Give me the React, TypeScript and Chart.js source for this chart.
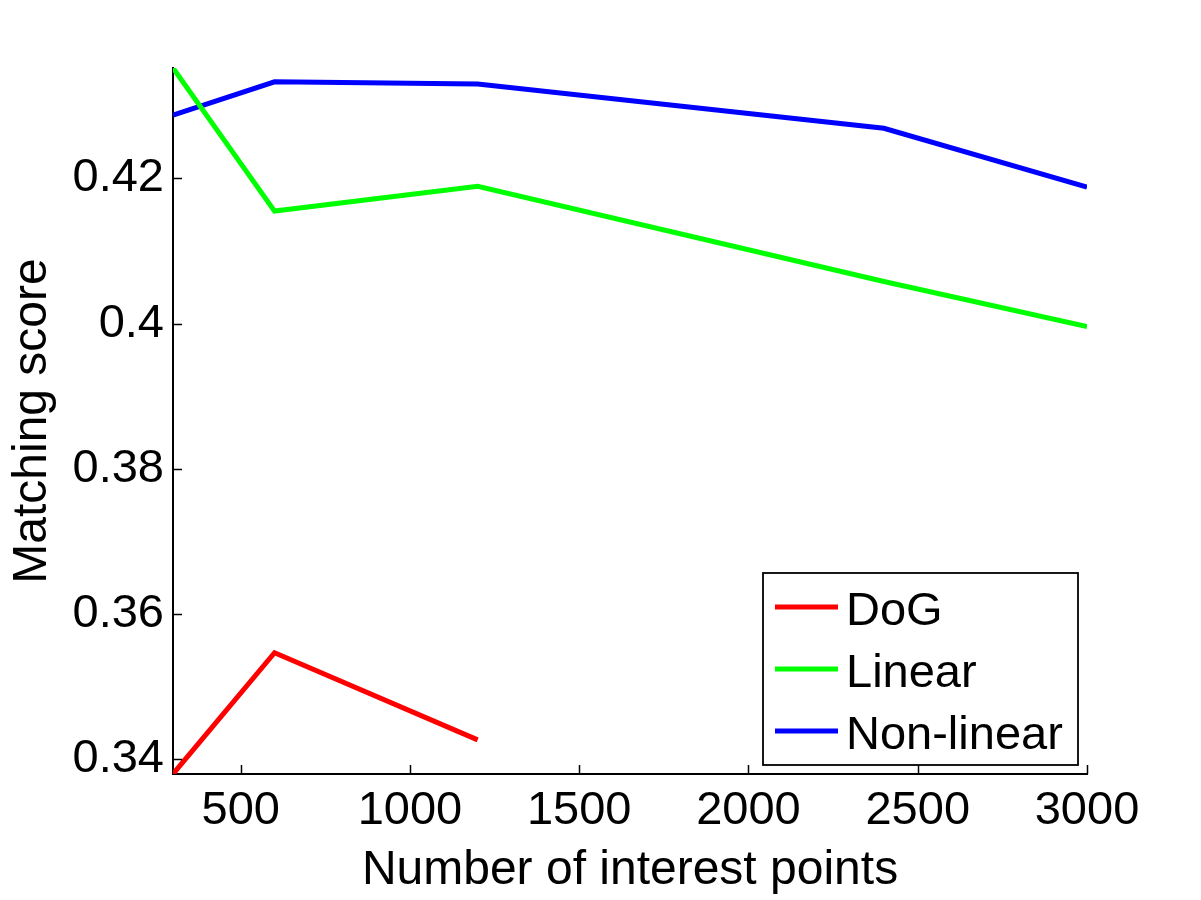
import React, { useEffect, useRef } from "react";
import { Chart, registerables } from "chart.js";

Chart.register(...registerables);

const xValues = [300, 600, 1200, 2400, 3000];
const dogValues = [0.338, 0.3547, 0.3427];
const linearValues = [0.4352, 0.4155, 0.4189, 0.4058, 0.3996];
const nonLinearValues = [0.4287, 0.4333, 0.433, 0.4269, 0.4188];
const seriesLabels = ["DoG", "Linear", "Non-linear"];
const seriesColors = ["#ff0000", "#00ff00", "#0000ff"];
const xTicks = [500, 1000, 1500, 2000, 2500, 3000];
const yTicks = [0.34, 0.36, 0.38, 0.4, 0.42];
const yTickLabels = ["0.34", "0.36", "0.38", "0.4", "0.42"];
const xTitle = "Number of interest points";
const yTitle = "Matching score";

const FONT = '"Liberation Sans", Arial, Helvetica, sans-serif';
const FS = 47;
const TFS = 48;

const innerTicksPlugin = {
  id: "innerTicks",
  afterDatasetsDraw(chart: any) {
    const { ctx, chartArea, scales } = chart;
    const len = 9;
    ctx.save();
    ctx.strokeStyle = "#000";
    ctx.lineWidth = 1.5;
    ctx.beginPath();
    scales.x.ticks.forEach((t: any) => {
      const px = Math.round(scales.x.getPixelForValue(t.value)) + 0.5;
      ctx.moveTo(px, chartArea.bottom);
      ctx.lineTo(px, chartArea.bottom - len);
    });
    scales.y.ticks.forEach((t: any) => {
      const py = Math.round(scales.y.getPixelForValue(t.value)) + 0.5;
      ctx.moveTo(chartArea.left, py);
      ctx.lineTo(chartArea.left + len, py);
    });
    ctx.stroke();
    ctx.restore();
  },
};

const boxLegendPlugin = {
  id: "boxLegend",
  afterDraw(chart: any) {
    const { ctx } = chart;
    const o = chart.options.plugins.boxLegend;
    ctx.save();
    ctx.fillStyle = "#fff";
    ctx.fillRect(o.left, o.top, o.width, o.height);
    ctx.strokeStyle = "#000";
    ctx.lineWidth = 1.8;
    ctx.strokeRect(o.left, o.top, o.width, o.height);
    ctx.font = `${FS}px ${FONT}`;
    ctx.textBaseline = "alphabetic";
    ctx.textAlign = "left";
    chart.data.datasets.forEach((ds: any, i: number) => {
      const y = o.firstRow + i * o.rowGap;
      ctx.strokeStyle = ds.borderColor;
      ctx.lineWidth = ds.borderWidth;
      ctx.beginPath();
      ctx.moveTo(o.sampleX0, y);
      ctx.lineTo(o.sampleX1, y);
      ctx.stroke();
      ctx.fillStyle = "#000";
      ctx.fillText(ds.label, o.textX, y + 18);
    });
    ctx.restore();
  },
};

export default function App() {
  const ref = useRef<HTMLCanvasElement>(null);
  useEffect(() => {
    if (!ref.current) return;
    const series = [dogValues, linearValues, nonLinearValues];
    const chart = new Chart(ref.current, {
      type: "line",
      data: {
        datasets: series.map((vals, i) => ({
          label: seriesLabels[i],
          data: vals.map((v, j) => ({ x: xValues[j], y: v })),
          borderColor: seriesColors[i],
          backgroundColor: seriesColors[i],
          borderWidth: 5,
          pointRadius: 0,
          tension: 0,
          fill: false,
          clip: 0,
        })),
      },
      options: {
        responsive: false,
        animation: false,
        devicePixelRatio: 1,
        layout: { padding: { left: 0, top: 68, right: 114, bottom: 0 } },
        plugins: {
          legend: { display: false },
          tooltip: { enabled: false },
          boxLegend: {
            left: 763,
            top: 573,
            width: 315,
            height: 192,
            firstRow: 607,
            rowGap: 62,
            sampleX0: 775,
            sampleX1: 838,
            textX: 846,
          },
        } as any,
        scales: {
          x: {
            type: "linear",
            min: 300,
            max: 3000,
            afterBuildTicks: (s: any) => {
              s.ticks = xTicks.map((v) => ({ value: v }));
            },
            afterFit: (s: any) => {
              s.height = 126;
            },
            grid: { display: false, drawTicks: false },
            border: { display: true, color: "#000", width: 2 },
            ticks: {
              color: "#000",
              font: { family: FONT, size: FS },
              padding: 9,
              maxRotation: 0,
              autoSkip: false,
              callback: (v: any) => String(v),
            },
            title: {
              display: true,
              text: xTitle,
              color: "#000",
              font: { family: FONT, size: TFS },
              padding: { top: 0, bottom: 0 },
            },
          },
          y: {
            type: "linear",
            min: 0.338,
            max: 0.4352,
            afterBuildTicks: (s: any) => {
              s.ticks = yTicks.map((v) => ({ value: v }));
            },
            afterFit: (s: any) => {
              s.width = 173;
            },
            grid: { display: false, drawTicks: false },
            border: { display: true, color: "#000", width: 2 },
            ticks: {
              color: "#000",
              font: { family: FONT, size: FS },
              padding: 9,
              autoSkip: false,
              callback: (v: any) => {
                const idx = yTicks.findIndex((t) => Math.abs(t - v) < 1e-9);
                return idx >= 0 ? yTickLabels[idx] : "";
              },
            },
            title: {
              display: true,
              text: yTitle,
              color: "#000",
              font: { family: FONT, size: TFS },
              padding: { top: 4, bottom: 0 },
            },
          },
        },
      },
      plugins: [innerTicksPlugin, boxLegendPlugin],
    });
    return () => chart.destroy();
  }, []);
  return (
    <div style={{ position: "absolute", left: 0, top: 0, width: 1201, height: 900, background: "#fff" }}>
      <canvas ref={ref} width={1201} height={900} style={{ width: 1201, height: 900 }} />
    </div>
  );
}
